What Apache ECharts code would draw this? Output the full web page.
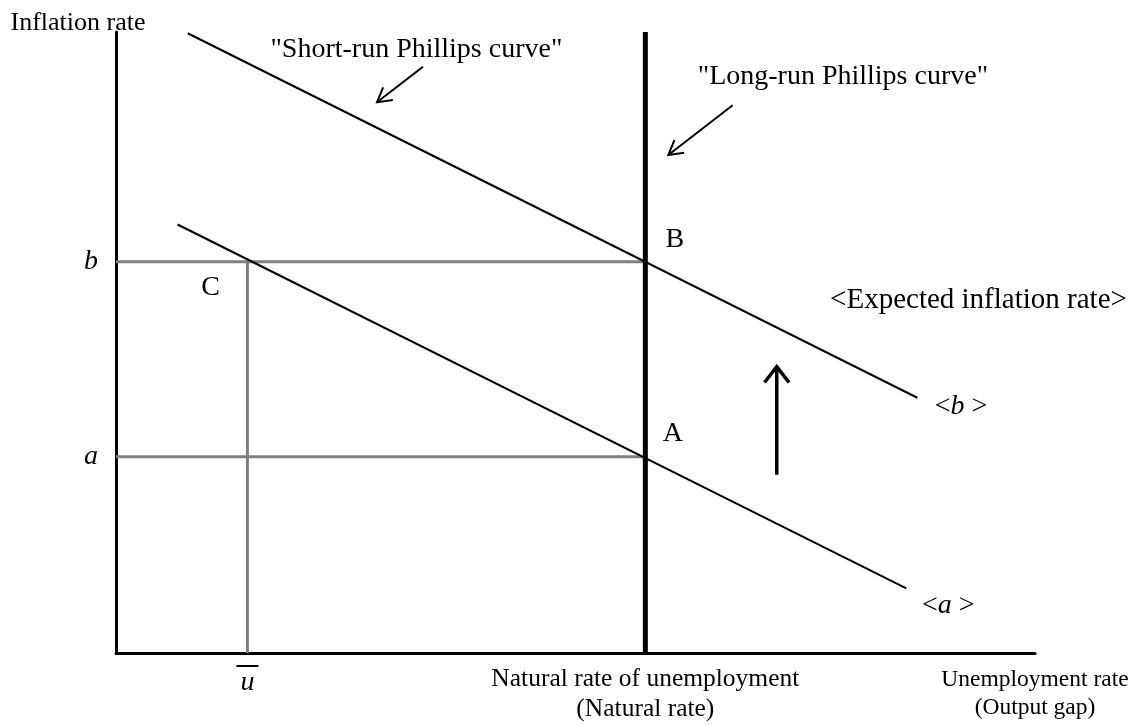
<!DOCTYPE html>
<html>
<head>
<meta charset="utf-8">
<script src="https://cdn.jsdelivr.net/npm/echarts@6/dist/echarts.min.js"></script>
<style>
  html, body { margin: 0; padding: 0; background: #fff; }
  #chart { width: 1137px; height: 725px; }
</style>
</head>
<body>
<div id="chart"></div>
<script>
// values (x: unemployment, y: inflation, both 0..100)
const naturalRate = 57.6
const uBar = 14.3
const rateA = 31.6
const rateB = 63.0

const srpcB = [[7.8, 99.8], [87.2, 41.1]]   // short-run curve, expectation b
const srpcA = [[6.7, 69.0], [86.0, 10.4]]   // short-run curve, expectation a
const lrpc = [[naturalRate, 0], [naturalRate, 100]]
const guideB = [[0, rateB], [naturalRate, rateB]]
const guideA = [[0, rateA], [naturalRate, rateA]]
const guideU = [[uBar, 0], [uBar, rateB]]

// arrows: [x0, y0, x1, y1] tail -> head
const arrows = [
  [33.4, 94.4, 28.4, 88.7],
  [67.1, 88.2, 60.1, 80.2],
  [71.9, 28.7, 71.9, 46.1]
]

// text notes: [text, x, y]
const leftNotes = [
  ['"Short-run Phillips curve"', 16.8, 97.1],
  ['"Long-run Phillips curve"', 63.3, 92.8],
  ['{w|<Expected inflation rate>}', 77.7, 56.8],
  ['<{i|b} >', 89.1, 39.6],
  ['<{i|a} >', 87.7, 7.7]
]
const pointNotes = [
  ['B', 60.8, 66.5],
  ['A', 60.6, 35.3],
  ['C', 10.3, 58.9]
]

const FONT = "'Liberation Serif', 'Times New Roman', serif"

const chart = echarts.init(document.getElementById('chart'))

const plainLine = (data, color, width) => ({
  type: 'line',
  data,
  showSymbol: false,
  silent: true,
  clip: false,
  lineStyle: { color, width },
  z: 3
})

const noteSeries = (notes, position) => ({
  type: 'scatter',
  data: notes.map(n => ({ value: [n[1], n[2]], name: n[0] })),
  symbolSize: 0,
  silent: true,
  clip: false,
  itemStyle: { opacity: 1 },
  label: {
    show: true,
    position,
    distance: 0,
    opacity: 1,
    formatter: p => p.name,
    color: '#000',
    fontFamily: FONT,
    fontSize: 28,
    rich: {
      i: { fontStyle: 'italic', fontFamily: FONT, fontSize: 28, color: '#000' },
      w: { fontFamily: FONT, fontSize: 29, color: '#000' }
    }
  }
})

chart.setOption({
  backgroundColor: '#fff',
  animation: false,
  grid: { left: 116, right: 102, top: 32, bottom: 72, outerBoundsMode: 'none' },
  xAxis: {
    type: 'value',
    min: 0,
    max: 100,
    name: 'Unemployment rate\n(Output gap)',
    nameLocation: 'end',
    nameGap: 0,
    nameTextStyle: {
      align: 'center', verticalAlign: 'top', lineHeight: 28,
      padding: [13, 0, 0, 0], fontFamily: FONT, fontSize: 23.5, color: '#000'
    },
    axisLine: { onZero: false, lineStyle: { color: '#000', width: 3 } },
    axisTick: { show: false },
    splitLine: { show: false },
    axisLabel: {
      customValues: [uBar, naturalRate],
      margin: 10,
      color: '#000',
      fontFamily: FONT,
      fontSize: 26,
      lineHeight: 30,
      formatter: v => v === uBar ? '{ov| }\n{u|u}' : '{n|Natural rate of unemployment}\n{n|(Natural rate)}',
      rich: {
        ov: { width: 22, height: 2, lineHeight: 6, backgroundColor: '#000' },
        u: { fontStyle: 'italic', fontFamily: FONT, fontSize: 28, lineHeight: 28, color: '#000' },
        n: { fontFamily: FONT, fontSize: 25.5, lineHeight: 30, color: '#000', padding: [2, 0, 0, 0] }
      }
    }
  },
  yAxis: {
    type: 'value',
    min: 0,
    max: 100,
    name: 'Inflation rate',
    nameLocation: 'end',
    nameGap: 9,
    nameTextStyle: {
      align: 'center', verticalAlign: 'middle', padding: [0, 76, 0, 0],
      fontFamily: FONT, fontSize: 26, color: '#000'
    },
    axisLine: { onZero: false, lineStyle: { color: '#000', width: 3 } },
    axisTick: { show: false },
    splitLine: { show: false },
    axisLabel: {
      customValues: [rateA, rateB],
      margin: 18,
      color: '#000',
      fontFamily: FONT,
      fontStyle: 'italic',
      fontSize: 28,
      formatter: v => v === rateB ? 'b' : 'a'
    }
  },
  series: [
    plainLine(guideB, '#808080', 3),
    plainLine(guideA, '#808080', 3),
    plainLine(guideU, '#808080', 3),
    plainLine(srpcB, '#000', 2),
    plainLine(srpcA, '#000', 2),
    plainLine(lrpc, '#000', 5),
    {
      type: 'custom',
      silent: true,
      clip: false,
      data: arrows,
      encode: { x: [0, 2], y: [1, 3] },
      renderItem: (params, api) => {
        const p0 = api.coord([api.value(0), api.value(1)])
        const p1 = api.coord([api.value(2), api.value(3)])
        const vertical = p0[0] === p1[0]
        const w = vertical ? 3.5 : 2
        const len = vertical ? 20 : 16
        const ang = vertical ? 0.66 : 0.52
        const dx = p0[0] - p1[0], dy = p0[1] - p1[1]
        const d = Math.hypot(dx, dy)
        const ux = dx / d, uy = dy / d
        const arm = a => [
          p1[0] + len * (ux * Math.cos(a) - uy * Math.sin(a)),
          p1[1] + len * (ux * Math.sin(a) + uy * Math.cos(a))
        ]
        const style = { stroke: '#000', lineWidth: w, fill: null }
        return {
          type: 'group',
          children: [
            { type: 'line', shape: { x1: p0[0], y1: p0[1], x2: p1[0], y2: p1[1] }, style },
            { type: 'polyline', shape: { points: [arm(ang), p1, arm(-ang)] }, style }
          ]
        }
      },
      z: 4
    },
    noteSeries(leftNotes, 'right'),
    noteSeries(pointNotes, 'inside')
  ]
})
</script>
</body>
</html>
